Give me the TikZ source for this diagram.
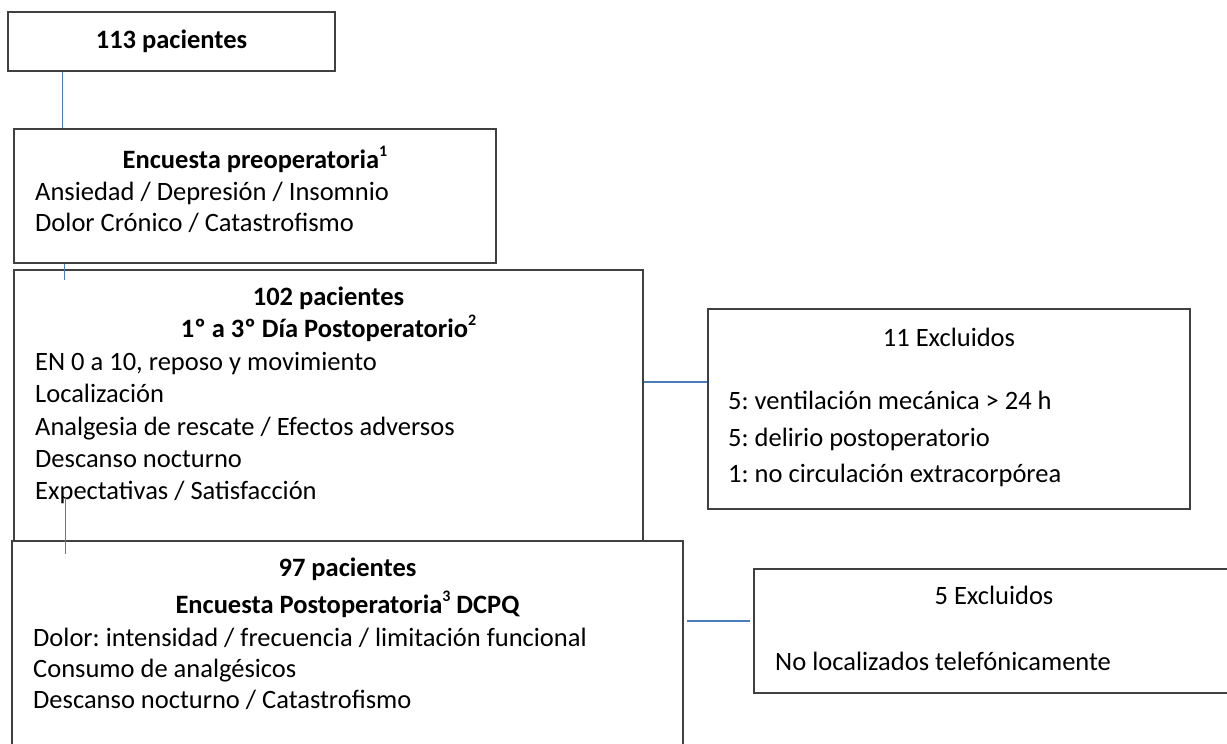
\documentclass[tikz,border=0pt]{standalone}
\usepackage{fontspec}
\setmainfont{Carlito}
\usetikzlibrary{positioning}
\definecolor{boxgray}{HTML}{404040}
\definecolor{linkblue}{HTML}{4A7EBB}
\frenchspacing
\newcommand{\supnum}[1]{\raisebox{0.42em}{\fontsize{16}{16}\selectfont #1}}

\begin{document}
\begin{tikzpicture}[
			x=1pt, y=-1pt,
			font=\fontsize{26.5}{32}\selectfont,
			box/.style={draw=boxgray, line width=1.2pt, inner sep=0pt},
			title/.style={anchor=base, inner sep=0pt, font=\fontsize{26.5}{32}\selectfont\bfseries},
			plain/.style={anchor=base, inner sep=0pt},
			item/.style={anchor=base west, inner sep=0pt},
			link/.style={draw=linkblue, line width=1.3pt}
			]

			\useasboundingbox (0,0) rectangle (1227,744);
			\clip (0,0) rectangle (1227,744);

			\node[box, minimum width=327pt, minimum height=59pt] (total) at (171.5,41.5) {};
			\node[box, minimum width=482pt, minimum height=134pt] (preop) at (255,196) {};
			\node[box, minimum width=629pt, minimum height=271pt] (postop) at (328.5,405.5) {};
			\node[box, minimum width=671pt, minimum height=219pt] (survey) at (347.5,650.5) {};
			\node[box, minimum width=482pt, minimum height=200pt] (excl1) at (949,409) {};
			\node[box, minimum width=480pt, minimum height=124pt] (excl2) at (994,631) {};

			\node[title] (totaltxt) at (171.5,48) {113 pacientes};

			\node[title] (preoptxt) at (255,168) {Encuesta preoperatoria\supnum{1}};
			\node[item] (preop1) at (35,200) {Ansiedad / Depresión / Insomnio};
			\node[item] (preop2) at (35,231) {Dolor Crónico / Catastrofismo};

			\node[title] (postoptxt) at (328.5,305) {102 pacientes};
			\node[title] (postopday) at (328.5,337) {1º a 3º Día Postoperatorio\supnum{2}};
			\foreach \i/\y/\t in {1/370/{EN 0 a 10, reposo y movimiento},
					2/402/{Localización},
					3/435/{Analgesia de rescate / Efectos adversos},
					4/467/{Descanso nocturno},
					5/499/{Expectativas / Satisfacción}} {
				\node[item] (postop\i) at (35,\y) {\t};
			}

			\node[title] (surveytxt) at (347.5,576) {97 pacientes};
			\node[title] (surveyname) at (347.5,613) {Encuesta Postoperatoria\supnum{3} DCPQ};
			\foreach \i/\y/\t in {1/646/{Dolor: intensidad / frecuencia / limitación funcional},
					2/677/{Consumo de analgésicos},
					3/708/{Descanso nocturno / Catastrofismo}} {
				\node[item] (survey\i) at (33,\y) {\t};
			}

			\node[plain] (excl1txt) at (949,346) {11 Excluidos};
			\foreach \i/\y/\t in {1/409/{5: ventilación mecánica > 24 h},
					2/446/{5: delirio postoperatorio},
					3/482/{1: no circulación extracorpórea}} {
				\node[item] (excl1\i) at (728,\y) {\t};
			}

			\node[plain] (excl2txt) at (994,604) {5 Excluidos};
			\node[item] (excl21) at (775,670) {No localizados telefónicamente};

			\draw[link] ([xshift=55pt]total.south west) -- ([xshift=49pt]preop.north west);
			\draw[link] ([xshift=51pt]preop.south west) -- ([shift={(51pt,-11pt)}]postop.north west);
			\draw[link] ([shift={(52pt,44pt)}]postop.south west) -- ([shift={(54pt,-14pt)}]survey.north west);
			\draw[link] ([yshift=23.5pt]postop.east) -- ([yshift=27pt]excl1.west);
			\draw[link, shorten <=3pt, shorten >=3pt] ([yshift=29.5pt]survey.east) -- ([yshift=10pt]excl2.west);

		\end{tikzpicture}
\end{document}
